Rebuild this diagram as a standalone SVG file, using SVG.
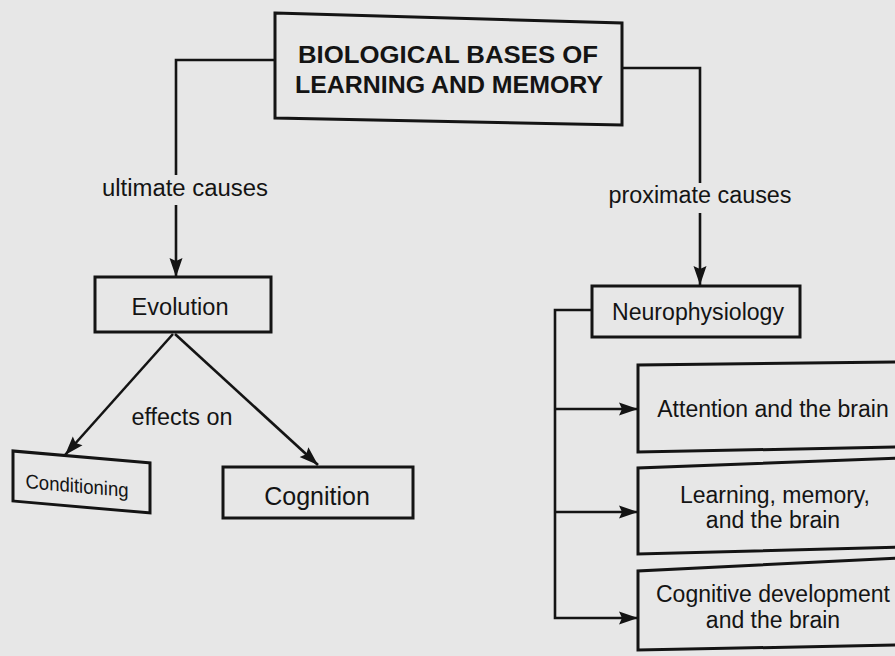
<svg xmlns="http://www.w3.org/2000/svg" width="895" height="656" viewBox="0 0 895 656">
<style>
.box{fill:none;stroke:#141414;stroke-width:3;stroke-linejoin:miter}
.ln{fill:none;stroke:#141414;stroke-width:2.6}
.t{font-family:"Liberation Sans",Arial,Helvetica,sans-serif;fill:#141414;font-size:23px;text-anchor:middle}
.tb{font-family:"Liberation Sans",Arial,Helvetica,sans-serif;fill:#141414;font-size:24px;font-weight:bold;text-anchor:middle}
</style>
<defs>
<marker id="arr" markerUnits="userSpaceOnUse" markerWidth="20" markerHeight="14" refX="19" refY="7" orient="auto">
<path d="M0,0.5 L19,7 L0,13.5 L3,7 z" fill="#141414"/>
</marker>
</defs>
<rect x="0" y="0" width="895" height="656" fill="#e7e7e7"/>

<g id="connectors">
<path class="ln" d="M275,60 L176,60 L176,175"/>
<path class="ln" d="M176,205 L176,277" marker-end="url(#arr)"/>
<path class="ln" d="M622,68 L700,68 L700,183"/>
<path class="ln" d="M700,213 L700,285" marker-end="url(#arr)"/>
<path class="ln" d="M173,334 L65,455" marker-end="url(#arr)"/>
<path class="ln" d="M175,334 L318,465" marker-end="url(#arr)"/>
<path class="ln" d="M592,310 L555,310 L555,618 L638,618" marker-end="url(#arr)"/>
<path class="ln" d="M555,409 L638,409" marker-end="url(#arr)"/>
<path class="ln" d="M555,512 L638,512" marker-end="url(#arr)"/>
<text class="t" x="185" y="196" textLength="166" lengthAdjust="spacingAndGlyphs">ultimate causes</text>
<text class="t" x="700" y="203" textLength="183" lengthAdjust="spacingAndGlyphs">proximate causes</text>
<text class="t" x="182" y="425" textLength="101" lengthAdjust="spacingAndGlyphs">effects on</text>
</g>

<g id="title">
<path class="box" d="M275,13 L622,23 L622,125 L275,118 Z"/>
<text class="tb" x="448" y="63" textLength="300" lengthAdjust="spacingAndGlyphs">BIOLOGICAL BASES OF</text>
<text class="tb" x="449" y="93" textLength="308" lengthAdjust="spacingAndGlyphs">LEARNING AND MEMORY</text>
</g>

<g id="evolution">
<rect class="box" x="95" y="277" width="176" height="55"/>
<text class="t" x="180" y="315" textLength="97" lengthAdjust="spacingAndGlyphs">Evolution</text>
</g>

<g id="conditioning" transform="translate(13,451) skewY(5)">
<rect class="box" x="0" y="0" width="137" height="50"/>
<text class="t" x="64" y="36" style="font-size:20px" textLength="103" lengthAdjust="spacingAndGlyphs">Conditioning</text>
</g>

<g id="cognition">
<rect class="box" x="223" y="467" width="190" height="51"/>
<text class="t" x="317" y="505" style="font-size:25px">Cognition</text>
</g>

<g id="neurophysiology">
<rect class="box" x="592" y="286" width="208" height="51"/>
<text class="t" x="698" y="320" textLength="172" lengthAdjust="spacingAndGlyphs">Neurophysiology</text>
</g>

<g id="attention">
<path class="box" d="M900,362 L638,365 L638,452 L900,447"/>
<text class="t" x="773" y="417">Attention and the brain</text>
</g>

<g id="learning">
<path class="box" d="M900,458 L638,468 L638,554 L900,547"/>
<text class="t" x="775" y="503">Learning, memory,</text>
<text class="t" x="773" y="528">and the brain</text>
</g>

<g id="cogdev">
<path class="box" d="M900,558 L638,571 L638,650 L900,645"/>
<text class="t" x="773" y="602">Cognitive development</text>
<text class="t" x="773" y="628">and the brain</text>
</g>
</svg>
